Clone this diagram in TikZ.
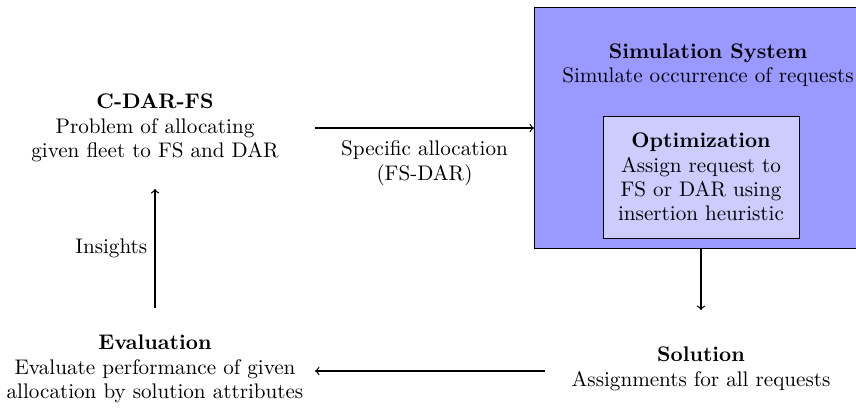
\documentclass[tikz,border=0pt]{standalone}
\begin{document}
\begin{tikzpicture}[x=0.49pt,y=-0.49pt,
  every node/.style={font=\fontsize{10.35pt}{12pt}\selectfont},
  txt/.style={align=center, inner sep=0pt},
  arr/.style={->, semithick},
  outerbox/.style={draw, fill=blue!40, inner sep=0pt, anchor=north west, minimum width=170.5pt, minimum height=118pt},
  innerbox/.style={draw, fill=blue!20, align=center, inner sep=0pt, minimum width=96pt, minimum height=59.8pt}]
\clip (0,0) rectangle (856,407);
% simulation system
\node[outerbox] (sim) at (534,7) {};
\node[txt] (simtxt) at (708,65) {\textbf{Simulation System}\\Simulate occurrence of requests};
\node[innerbox] (opt) at (701,177) {\textbf{Optimization}\\Assign request to\\FS or DAR using\\insertion heuristic};
% other nodes
\node[txt] (cdar) at (155,128) {\textbf{C-DAR-FS}\\Problem of allocating\\given fleet to FS and DAR};
\node[txt] (eval) at (155,369) {\textbf{Evaluation}\\Evaluate performance of given\\allocation by solution attributes};
\node[txt] (sol) at (701,369) {\textbf{Solution}\\Assignments for all requests};
% connector ends
\coordinate (c1) at (315,128);
\coordinate (c2) at (701,310);
\coordinate (c3) at (545,371);
\coordinate (c4) at (315,371);
\coordinate (c5) at (155,308);
\coordinate (c6) at (155,189);
% connectors
\draw[arr] (c1) -- (c1 -| sim.west) node[midway, below=6pt, txt] (lab1) {Specific allocation\\(FS-DAR)};
\draw[arr] (opt.south |- sim.south) -- (c2);
\draw[arr] (c3) -- (c4);
\draw[arr] (c5) -- (c6) node[midway, left=3.5pt, txt] (lab2) {Insights};
\end{tikzpicture}
\end{document}
